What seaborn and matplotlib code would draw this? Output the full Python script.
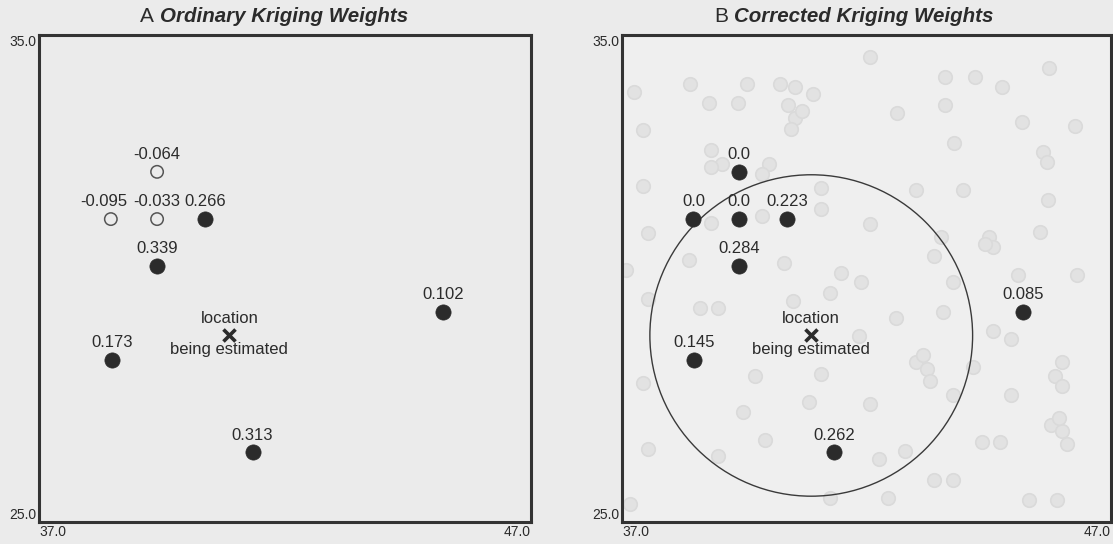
import seaborn as sns
import matplotlib.pyplot as plt
import pandas as pd
from matplotlib.patches import Circle

# sample locations (same in both panels)
sample_x = [39.40, 38.46, 39.40, 40.37, 39.40, 45.21, 38.48, 41.34]
sample_y = [32.19, 31.22, 31.22, 31.22, 30.26, 29.32, 28.33, 26.43]
ok_weights = [-0.064, -0.095, -0.033, 0.266, 0.339, 0.102, 0.173, 0.313]
ok_labels = ['-0.064', '-0.095', '-0.033', '0.266', '0.339', '0.102', '0.173', '0.313']
corrected_weights = [0.0, 0.0, 0.0, 0.223, 0.284, 0.085, 0.145, 0.262]
corrected_labels = ['0.0', '0.0', '0.0', '0.223', '0.284', '0.085', '0.145', '0.262']

target_x = [40.87]
target_y = [28.83]
search_radius = 3.3

# remaining data locations, drawn faded in panel B
other_x = [42.07, 38.40, 37.24, 39.55, 38.78, 39.37, 40.24, 40.54, 40.39, 40.54, 40.69, 40.46,
           40.91, 42.63, 43.61, 44.21, 44.77, 45.74, 43.61, 45.18, 46.27, 37.43, 43.79, 45.60,
           45.70, 38.81, 39.04, 38.81, 40.01, 39.86, 37.43, 41.06, 43.01, 43.98, 45.71, 37.54,
           38.81, 39.86, 41.06, 42.07, 43.53, 44.50, 44.58, 44.43, 45.55, 38.36, 40.31, 43.38,
           37.09, 41.47, 41.88, 41.25, 43.76, 45.10, 46.30, 37.54, 38.59, 38.96, 40.50, 42.60,
           43.57, 44.58, 44.95, 41.85, 43.01, 43.23, 43.16, 43.30, 44.17, 45.85, 46.00, 46.00,
           37.43, 39.71, 41.06, 43.76, 44.95, 39.48, 40.83, 42.07, 45.78, 46.00, 45.93, 46.10,
           37.54, 38.96, 39.93, 44.36, 44.73, 42.26, 42.78, 43.38, 43.76, 45.33, 45.89, 42.44,
           41.25, 37.16]
other_y = [34.54, 34.00, 33.82, 34.00, 33.60, 33.60, 34.00, 33.93, 33.57, 33.29, 33.43, 33.07,
           33.79, 33.39, 34.14, 34.14, 33.93, 34.32, 33.57, 33.21, 33.14, 33.04, 32.79, 32.60,
           32.40, 32.64, 32.36, 32.29, 32.36, 32.14, 31.89, 31.86, 31.82, 31.82, 31.61, 30.93,
           31.14, 31.29, 31.43, 31.11, 30.86, 30.86, 30.64, 30.71, 30.96, 30.39, 30.32, 30.46,
           30.18, 30.11, 29.93, 29.71, 29.93, 30.07, 30.07, 29.57, 29.39, 29.39, 29.54, 29.18,
           29.32, 28.93, 28.75, 28.82, 28.29, 28.14, 28.43, 27.90, 28.18, 28.00, 28.29, 27.80,
           27.86, 28.00, 28.04, 27.61, 27.61, 27.25, 27.46, 27.43, 27.00, 26.86, 27.14, 26.60,
           26.50, 26.36, 26.68, 26.64, 26.64, 26.29, 26.46, 25.86, 25.86, 25.46, 25.46, 25.50,
           25.50, 25.36]

sns.set_theme(style='white')
plt.rcParams['font.family'] = ['Liberation Sans', 'DejaVu Sans']

ink = '#2b2b2b'
fig = plt.figure(figsize=(11.13, 5.44), dpi=100, facecolor='#ebebeb')
ax_a = fig.add_axes([39 / 1113, 22 / 544, 492 / 1113, 487 / 544])
ax_b = fig.add_axes([622 / 1113, 22 / 544, 489 / 1113, 487 / 544])


def frame(ax, bg):
    ax.set_facecolor(bg)
    ax.set_xlim(37, 47)
    ax.set_ylim(25, 35)
    ax.set_xticks([37, 47])
    ax.set_xticklabels(['37.0', '47.0'])
    ax.set_yticks([25, 35])
    ax.set_yticklabels(['25.0', '35.0'])
    ax.tick_params(length=0, pad=2, labelsize=10, labelcolor='#2a2a2a')
    xl = ax.get_xticklabels()
    xl[0].set_ha('left')
    xl[1].set_ha('right')
    yl = ax.get_yticklabels()
    yl[0].set_va('bottom')
    yl[1].set_va('top')
    for s in ax.spines.values():
        s.set_visible(True)
        s.set_color('#333333')
        s.set_linewidth(2.2)
    ax.set_xlabel('')
    ax.set_ylabel('')


def label_points(ax, labels, shifts):
    for i, (x, y, t) in enumerate(zip(sample_x, sample_y, labels)):
        ax.annotate(t, (x, y), xytext=(shifts.get(i, 0), 7), textcoords='offset points',
                    ha='center', va='bottom', fontsize=12, color=ink)
    ax.scatter(target_x, target_y, marker='x', s=75, linewidths=2.6, color=ink, zorder=5)
    ax.annotate('location', (target_x[0], target_y[0]), xytext=(0, 7), textcoords='offset points',
                ha='center', va='bottom', fontsize=12, color=ink)
    ax.annotate('being estimated', (target_x[0], target_y[0]), xytext=(0, -5), textcoords='offset points',
                ha='center', va='top', fontsize=12, color=ink)


def title(ax, letter, text, split):
    ax.text(split, 1.037, letter, transform=ax.transAxes, ha='right', va='center',
            fontsize=15, color=ink)
    ax.text(split + 0.012, 1.037, text, transform=ax.transAxes, ha='left', va='center',
            fontsize=14.8, fontweight='bold', fontstyle='italic', color=ink)


# Panel A: ordinary kriging, negative weights as open circles
df_a = pd.DataFrame({'x': sample_x, 'y': sample_y, 'w': ok_weights})
neg = df_a[df_a.w < 0]
pos = df_a[df_a.w >= 0]
sns.scatterplot(data=pos, x='x', y='y', ax=ax_a, s=120, color=ink, edgecolor=ink, linewidth=0.5, zorder=4)
sns.scatterplot(data=neg, x='x', y='y', ax=ax_a, s=80, facecolor='none', edgecolor='#555555',
                linewidth=1.1, zorder=4)
frame(ax_a, '#ebebeb')
label_points(ax_a, ok_labels, {1: -5})
title(ax_a, 'A', 'Ordinary Kriging Weights', 0.233)

# Panel B: corrected weights with faded data and search circle
df_o = pd.DataFrame({'x': other_x, 'y': other_y})
sns.scatterplot(data=df_o, x='x', y='y', ax=ax_b, s=95, color='#e2e2e2', edgecolor='#dadada',
                linewidth=1.2, zorder=1)
df_b = pd.DataFrame({'x': sample_x, 'y': sample_y, 'w': corrected_weights})
sns.scatterplot(data=df_b, x='x', y='y', ax=ax_b, s=120, color=ink, edgecolor=ink, linewidth=0.5, zorder=4)
ax_b.add_patch(Circle((target_x[0], target_y[0]), search_radius, fill=False,
                      edgecolor='#3a3a3a', linewidth=1.0, zorder=3))
frame(ax_b, '#efefef')
label_points(ax_b, corrected_labels, {})
title(ax_b, 'B', 'Corrected Kriging Weights', 0.218)

fig.savefig('out.png', dpi=100, facecolor=fig.get_facecolor())
